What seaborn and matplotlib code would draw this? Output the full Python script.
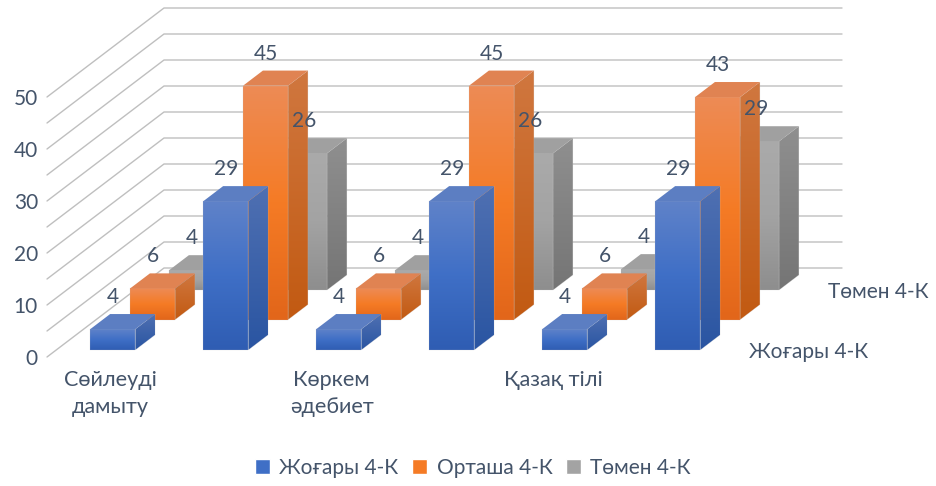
import numpy as np
import matplotlib
matplotlib.use("Agg")
import matplotlib.pyplot as plt
from matplotlib.colors import LinearSegmentedColormap
from matplotlib.patches import Patch, Polygon
import seaborn as sns

# data (labels show them rounded)
categories = ["Сөйлеуді\nдамыту", "", "Көркем\nәдебиет", "", "Қазақ тілі", ""]
series_names = ["Жоғары 4-К", "Орташа 4-К", "Төмен 4-К"]
high_values = [4, 28.6, 4, 28.6, 4, 28.6]
mid_values = [6, 45, 6, 45, 6, 42.8]
low_values = [3.8, 26.3, 3.8, 26.3, 4, 28.6]
y_ticks = [0, 10, 20, 30, 40, 50]
grid_levels = [0, 5, 10, 15, 20, 25, 30, 35, 40, 45, 50]

TEXT = "#44546A"
GRID = "#BFBFBF"
EDGE = (0.78, 0.78, 0.78, 0.45)
# front top/mid/bottom, side top/bottom, roof
blue = dict(front=["#5F82C9", "#3F6FC6", "#2F5DB3"], side=["#4F70B2", "#2A55A2"], roof="#5C7EC2")
orange = dict(front=["#ED8B55", "#F57B25", "#E2661A"], side=["#D0773F", "#C25A12"], roof="#E08352")
gray = dict(front=["#AAAAAA", "#A3A3A3", "#8E8E8E"], side=["#8F8F8F", "#757575"], roof="#A0A0A0")

sns.set_theme(style="white")
plt.rcParams["font.family"] = ["Lato", "Open Sans", "DejaVu Sans"]

fig = plt.figure(figsize=(9.36, 4.86), dpi=100)
W, H = 936, 486
# one category = 113 px, one value unit = 5.2 px, floor depth = 117 x 89 px
px_x, px_y = 113.0, 5.2
depth_x, depth_y = 117 / px_x, 89 / px_y
x_max = 6 + depth_x
y_max = 50 + depth_y
ax = fig.add_axes([47 / W, (H - 357) / H, x_max * px_x / W, y_max * px_y / H])

bar_width = 45 / 113
bar_depth = 0.169
depths = [0.08, 0.42, 0.753]
slots = np.arange(len(categories)) + 0.5
FS = 15


def gradient_face(verts, colors, z):
    cmap = LinearSegmentedColormap.from_list("f", colors)
    verts = np.array(verts)
    img = ax.imshow(np.linspace(0, 1, 64).reshape(-1, 1), cmap=cmap, aspect="auto",
                    extent=[verts[:, 0].min(), verts[:, 0].max(), verts[:, 1].min(), verts[:, 1].max()],
                    interpolation="bilinear", zorder=z)
    clip = Polygon(verts, transform=ax.transData, fill=False, edgecolor=EDGE, lw=0.3, zorder=z)
    ax.add_patch(clip)
    img.set_clip_path(clip)


# back to front, so nearer bars cover the ones behind
rows = [(low_values, gray, depths[2], 3), (mid_values, orange, depths[1], 4), (high_values, blue, depths[0], 5)]
for values, style, d, z in rows:
    base = d * depth_y
    centers = slots + d * depth_x
    sns.barplot(x=centers, y=values, native_scale=True, width=bar_width, bottom=base,
                color=style["front"][1], errorbar=None, legend=False, ax=ax, zorder=z,
                saturation=1, linewidth=0)
    for cx, v in zip(centers, values):
        x0, x1 = cx - bar_width / 2, cx + bar_width / 2
        y0, y1 = base, base + v
        sx, sy = bar_depth * depth_x, bar_depth * depth_y
        gradient_face([(x0, y0), (x1, y0), (x1, y1), (x0, y1)], style["front"], z)
        gradient_face([(x1, y0), (x1 + sx, y0 + sy), (x1 + sx, y1 + sy), (x1, y1)], style["side"], z)
        ax.fill([x0, x1, x1 + sx, x0 + sx], [y1, y1, y1 + sy, y1 + sy], color=style["roof"],
                lw=0, zorder=z)
        ax.annotate(f"{v:.0f}", (cx, y1), xytext=(0, 32 * 0.72), textcoords="offset points",
                    ha="center", va="center", fontsize=FS, color=TEXT, zorder=10)

# walls
for level in grid_levels:
    ax.plot([0, depth_x, x_max], [level, level + depth_y, level + depth_y], color=GRID, lw=1.0,
            clip_on=False, zorder=1)

ax.set_xlim(0, x_max)
ax.set_ylim(0, y_max)
sns.despine(ax=ax, left=True, bottom=True)
ax.patch.set_alpha(0)

ax.set_yticks(y_ticks)
ax.set_yticklabels([str(t) for t in y_ticks], fontsize=FS, color=TEXT)
label_idx = [i for i, c in enumerate(categories) if c]
ax.set_xticks([0.56 + 0.98 * i for i in label_idx])
ax.set_xticklabels([categories[i] for i in label_idx], fontsize=15.6, color=TEXT, linespacing=1.45)
ax.tick_params(axis="both", length=0)
ax.tick_params(axis="y", pad=6.5)
ax.tick_params(axis="x", pad=9)
ax.set_xlabel("")
ax.set_ylabel("")

# depth axis names
for name, d in [(series_names[0], depths[0]), (series_names[2], depths[2])]:
    ax.annotate(name, (6 + d * depth_x, d * depth_y), xytext=(15 * 0.72, -1.5), textcoords="offset points",
                ha="left", va="center", fontsize=FS, color=TEXT)

handles = [Patch(facecolor=s["front"][1], label=n) for s, n in zip([blue, orange, gray], series_names)]
fig.legend(handles=handles, loc="center", bbox_to_anchor=(473 / W, (H - 468) / H), ncol=3, frameon=False,
           fontsize=FS, labelcolor=TEXT, handlelength=0.72, handleheight=0.72, handletextpad=0.45,
           columnspacing=0.65)

fig.savefig("out.png", dpi=100)
